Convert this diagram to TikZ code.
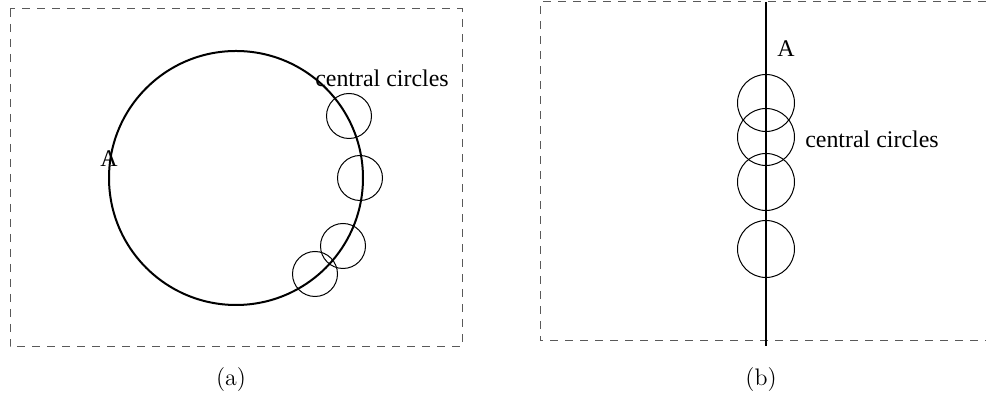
\documentclass[tikz,border=0pt]{standalone}
\usepackage{fontspec}
\newfontfamily\labelfont{Liberation Serif}

\tikzset{
	frame/.style={dash pattern=on 4bp off 3.5bp, black!65, line width=0.5bp},
	bigpath/.style={line width=1bp},
	central/.style={line width=0.5bp},
	lbl/.style={font=\labelfont\fontsize{12}{14}\selectfont, inner sep=0pt, anchor=base},
	caption/.style={font=\fontsize{12}{14}\selectfont, inner sep=0pt, anchor=base}
}

\begin{document}
\begin{tikzpicture}[x=0.5bp, y=-0.5bp]
	\useasboundingbox (0,0) rectangle (986,397);
	% (a) circular path
	\draw[frame] (10,9) rectangle (462,347);
	\draw[bigpath] (236,178) circle [radius=127];
	\foreach \cx/\cy in {349/116, 360/178, 343/246, 315/274} {
		\draw[central] (\cx,\cy) circle [radius=22.5];
	}
	\node[lbl] (Aa) at (109,167) {A};
	\node[lbl] (ccA) at (382,87) {central circles};
	\node[caption] (capA) at (231,386) {(a)};
	% (b) straight path
	\draw[frame] (986,2) -- (540,2) -- (540,341) -- (986,341);
	\draw[bigpath] (766,2) -- (766,346);
	\foreach \cy in {103, 137, 182, 249} {
		\draw[central] (766,\cy) circle [radius=28.5];
	}
	\node[lbl] (Ab) at (786,57) {A};
	\node[lbl] (ccB) at (872,148) {central circles};
	\node[caption] (capB) at (761,386) {(b)};
\end{tikzpicture}
\end{document}
